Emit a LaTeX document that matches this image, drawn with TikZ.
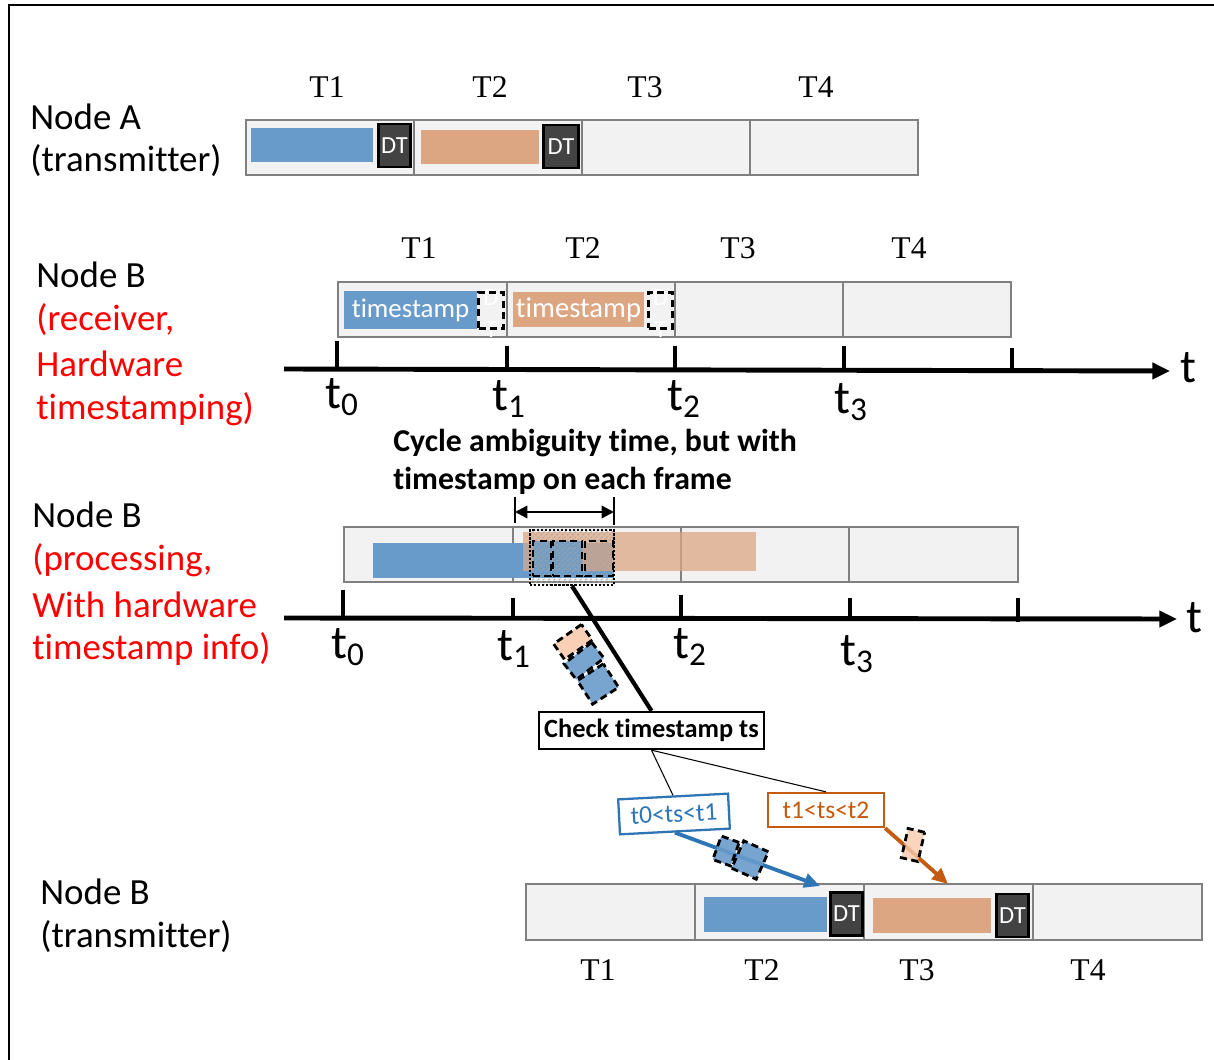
\documentclass[tikz,border=0pt]{standalone}
\usepackage{fontspec}
\setmainfont{Carlito}[Ligatures=NoCommon]
\newfontfamily\timesf{Liberation Serif}
\usetikzlibrary{arrows.meta,patterns}
\definecolor{cellfill}{HTML}{F2F2F2}
\definecolor{cellgray}{HTML}{808080}
\definecolor{barblue}{HTML}{699BCA}
\definecolor{barorange}{HTML}{DCA682}
\definecolor{dtgray}{HTML}{434343}
\definecolor{lblue}{HTML}{2E75B6}
\definecolor{lorange}{HTML}{C55A11}
\definecolor{lightorange}{HTML}{F8CBAD}
\begin{document}
\begin{tikzpicture}[x=0.02cm,y=-0.02cm,
  cell/.style={draw=cellgray,fill=cellfill,line width=1.1pt},
  dt/.style={draw=black,line width=1.2pt,fill=dtgray,text=white,font=\fontsize{14}{14}\selectfont,inner sep=0pt,minimum width=0.64cm,minimum height=0.86cm},
  tslbl/.style={fill=#1,text=white,font=\fontsize{15.3}{15.3}\selectfont,inner sep=0pt,minimum height=0.76cm},
  dashbox/.style={draw=black,dashed,dash pattern=on 4pt off 2.5pt,line width=1.4pt,inner sep=0pt},
  lbl/.style={anchor=west,font=\fontsize{21}{24}\selectfont,inner sep=0pt},
  redlbl/.style={lbl,text=red},
  tlab/.style={font=\timesf\fontsize{18}{18}\selectfont,inner sep=0pt},
  tick/.style={line width=2.8pt},
  axis/.style={line width=2.8pt,-{Triangle[length=10pt,width=9pt]}},
  tsub/.style={font=\fontsize{27}{27}\selectfont,inner sep=0pt},
  boldlbl/.style={anchor=west,font=\bfseries\fontsize{18.1}{20}\selectfont,inner sep=0pt},
  tiltbox/.style={dashbox,fill=#1,fill opacity=0.9,draw opacity=1},
]
\useasboundingbox (0,0) rectangle (1214,1060);
% frame
\draw[line width=1.4pt] (9,1060) -- (9,5) -- (1214,5);

% ---------- Node A ----------
\node[lbl] (na1) at (30,117) {Node A};
\node[lbl] (na2) at (30,161) {(transmitter)};
\foreach \a/\b in {246/414,414/582,582/750,750/918}
  \draw[cell] (\a,120) rectangle (\b,175);
\fill[barblue] (251,128) rectangle (373,162);
\fill[barorange] (421,130) rectangle (539,164);
\node[dt] (adt1) at (394.5,145.5) {DT};
\node[dt,minimum width=0.7cm] (adt2) at (561,146.5) {DT};
\node[tlab] (aT1) at (327,87) {T1};
\node[tlab] (aT2) at (490,87) {T2};
\node[tlab] (aT3) at (645,87) {T3};
\node[tlab] (aT4) at (816,87) {T4};

% ---------- Node B receiver ----------
\node[lbl] (nb1) at (36,275) {Node B};
\node[redlbl] (nb2) at (36,320) {(receiver,};
\node[redlbl] (nb3) at (36,364) {Hardware};
\node[redlbl] (nb4) at (36,409) {timestamping)};
\foreach \a/\b in {338/507,507/675,675/843,843/1011}
  \draw[cell] (\a,282) rectangle (\b,337);
\node[tslbl=barblue,minimum width=2.66cm] (bts1) at (410.5,310) {timestamp};
\node[tslbl=barorange,minimum width=2.62cm,minimum height=0.7cm,font=\fontsize{16.3}{16.3}\selectfont] (bts2) at (578.5,310) {timestamp};
\node[text=white,font=\fontsize{14}{14}\selectfont,inner sep=0pt] (bd1D) at (491,298) {D};
\node[text=white,font=\fontsize{14}{14}\selectfont,inner sep=0pt] (bd1T) at (491,330) {T};
\node[text=white,font=\fontsize{14}{14}\selectfont,inner sep=0pt] (bd2D) at (660.5,298) {D};
\node[text=white,font=\fontsize{14}{14}\selectfont,inner sep=0pt] (bd2T) at (660.5,330) {T};
\node[dashbox,line width=1.9pt,minimum width=0.5cm,minimum height=0.72cm] (bd1) at (491,310.5) {};
\node[dashbox,line width=1.9pt,minimum width=0.48cm,minimum height=0.72cm] (bd2) at (660.5,310.5) {};
\node[tlab] (bT1) at (419,248) {T1};
\node[tlab] (bT2) at (583,248) {T2};
\node[tlab] (bT3) at (738,248) {T3};
\node[tlab] (bT4) at (909,248) {T4};
% axis 1
\coordinate (ax1l) at (284,369);
\coordinate (ax1r) at (1170,371);
\draw[axis] (ax1l) -- (ax1r);
\node[tsub] (ax1t) at (1188,368) {t};
\draw[tick] (337,341) -- (337,370);
\draw[tick] (507,346) -- (507,370);
\draw[tick] (675,346) -- (675,370);
\draw[tick] (844,346) -- (844,371);
\draw[tick] (1012,348) -- (1012,372);
\node[tsub] (l1t0) at (342,397) {t\textsubscript{0}};
\node[tsub] (l1t1) at (509,399) {t\textsubscript{1}};
\node[tsub] (l1t2) at (684,399) {t\textsubscript{2}};
\node[tsub] (l1t3) at (851,402) {t\textsubscript{3}};

% cycle text
\node[boldlbl] (cyc1) at (393,443) {Cycle ambiguity time, but with};
\node[boldlbl] (cyc2) at (393,481) {timestamp on each frame};

% ---------- Node B processing ----------
\node[lbl] (np1) at (32,515) {Node B};
\node[redlbl] (np2) at (32,560) {(processing,};
\node[redlbl] (np3) at (32,605) {With hardware};
\node[redlbl] (np4) at (32,649) {timestamp info)};
\foreach \a/\b in {344/513,513/681,681/849,849/1018}
  \draw[cell] (\a,527) rectangle (\b,582);
\fill[barblue] (373,543) rectangle (614,578);
\fill[barorange,opacity=0.75] (523,532) rectangle (756,571);
\fill[barblue,opacity=0.85] (533,541) rectangle (582,576);
\node[draw=black,densely dotted,line width=1.3pt,pattern=north east lines,pattern color=black!35,inner sep=0pt,minimum width=1.68cm,minimum height=1.1cm] (amb) at (572,557.5) {};
\node[dashbox,line width=1.6pt,minimum width=0.36cm,minimum height=0.7cm] (pd1) at (542,558.5) {};
\node[dashbox,line width=1.6pt,minimum width=0.58cm,minimum height=0.7cm] (pd2) at (567.5,558.5) {};
\node[dashbox,line width=1.6pt,minimum width=0.56cm,minimum height=0.7cm] (pd3) at (599,558.5) {};
% dimension
\coordinate (dl) at (515,512);
\coordinate (dr) at (614,512);
\draw[line width=1.4pt] (515,497) -- (515,523);
\draw[line width=1.4pt] (614,497) -- (614,525);
\draw[line width=1.4pt,{Triangle[length=7pt,width=7pt]}-{Triangle[length=7pt,width=7pt]}] (dl) -- (dr);
% axis 2
\coordinate (ax2l) at (284,618);
\coordinate (ax2r) at (1177,619);
\draw[axis] (ax2l) -- (ax2r);
\node[tsub] (ax2t) at (1194,618) {t};
\draw[tick] (343,590) -- (343,619);
\draw[tick] (513,598) -- (513,619);
\draw[tick] (681,595) -- (681,619);
\draw[tick] (850,598) -- (850,619);
\draw[tick] (1018,598) -- (1018,622);
\node[tsub] (l2t0) at (348,647) {t\textsubscript{0}};
\node[tsub] (l2t1) at (514,649) {t\textsubscript{1}};
\node[tsub] (l2t2) at (690,647) {t\textsubscript{2}};
\node[tsub] (l2t3) at (857,654) {t\textsubscript{3}};

% check node and connectors
\node[draw=black,fill=white,line width=1.3pt,inner sep=0pt,minimum width=4.5cm,minimum height=0.74cm,font=\bfseries\fontsize{15}{15}\selectfont] (check) at (651.5,730.5) {Check timestamp ts};
\draw[line width=2.4pt] (amb.south) -- (check.north);
% tilted boxes along thick line
\node[tiltbox=lightorange,line width=1.6pt,minimum width=0.68cm,minimum height=0.38cm,rotate=35] (tb1) at (573,642) {};
\node[tiltbox=barblue,line width=1.6pt,minimum width=0.7cm,minimum height=0.4cm,rotate=38] (tb2) at (584,661) {};
\node[tiltbox=barblue,line width=1.6pt,minimum width=0.62cm,minimum height=0.56cm,rotate=33] (tb3) at (598,684) {};

\node[draw=lblue,fill=white,line width=1.3pt,text=lblue,inner sep=0pt,minimum width=2.2cm,minimum height=0.7cm,rotate=3,font=\fontsize{14.5}{14.5}\selectfont] (bl) at (674,814) {t0<ts<t1};
\node[draw=lorange,fill=white,line width=1.3pt,text=lorange,inner sep=0pt,minimum width=2.32cm,minimum height=0.68cm,font=\fontsize{14.5}{14.5}\selectfont] (ol) at (826,810) {t1<ts<t2};
\draw[line width=0.6pt] (check.south) -- (bl.north);
\draw[line width=0.6pt] (check.south) -- (ol.north);

% ---------- Node B transmitter ----------
\node[lbl] (nt1) at (40,892) {Node B};
\node[lbl] (nt2) at (40,937) {(transmitter)};
\foreach \a/\b in {526/695,695/864,864/1033,1033/1202}
  \draw[cell] (\a,884) rectangle (\b,940);
\fill[barblue] (704,897) rectangle (827,932);
\fill[barorange] (873,898) rectangle (991,933);
\node[dt] (tdt1) at (846.5,914) {DT};
\node[dt] (tdt2) at (1012.5,915.5) {DT};
\node[tlab] (tT1) at (598,970) {T1};
\node[tlab] (tT2) at (762,970) {T2};
\node[tlab] (tT3) at (917,970) {T3};
\node[tlab] (tT4) at (1088,970) {T4};

% arrows to transmit slots
\coordinate (bend) at (820,886);
\coordinate (oend) at (948,884);
\draw[lblue,line width=2.2pt,-{Triangle[length=9pt,width=8pt]}] (bl.south) -- (bend);
\draw[lorange,line width=2.2pt,-{Triangle[length=9pt,width=8pt]}] (ol.south east) -- (oend);
\node[tiltbox=barblue,line width=1.6pt,minimum width=0.38cm,minimum height=0.5cm,rotate=-20] (ab1) at (726,851) {};
\node[tiltbox=barblue,line width=1.6pt,minimum width=0.54cm,minimum height=0.6cm,rotate=-24] (ab2) at (750,860) {};
\node[tiltbox=lightorange,line width=1.6pt,minimum width=0.34cm,minimum height=0.6cm,rotate=-13,fill opacity=0.8] (ob1) at (913,845) {};
\end{tikzpicture}
\end{document}
